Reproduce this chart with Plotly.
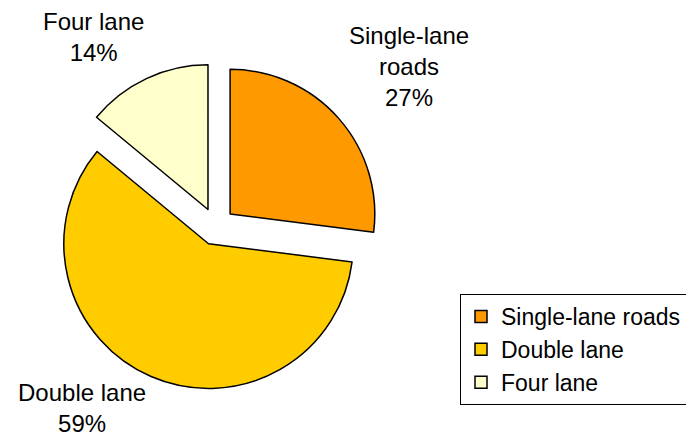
import plotly.graph_objects as go

categories = ["Single-lane roads", "Double lane", "Four lane"]
label_text = ["Single-lane<br>roads", "Double lane", "Four lane"]
values = [27, 59, 14]
colors = ["#FF9900", "#FFCC00", "#FFFFCC"]

W, H = 694, 438
FONT = "Liberation Sans, Arial, sans-serif"

fig = go.Figure(go.Pie(
    labels=categories,
    values=values,
    sort=False,
    direction="clockwise",
    rotation=0,
    pull=[0.13, 0.13, 0.13],
    marker=dict(colors=colors, line=dict(color="black", width=1.5)),
    textinfo="none",
    hoverinfo="label+percent",
    domain=dict(x=[44.5 / W, 371.5 / W], y=[56 / H, 383 / H]),
))

# label placements (paper coords) for each category
label_pos = [(401 / W, 1 - 58.5 / H), (74 / W, 1 - 400 / H), (85 / W, 1 - 28.5 / H)]
for txt, v, (lx, ly) in zip(label_text, values, label_pos):
    fig.add_annotation(
        x=lx, y=ly, xref="paper", yref="paper",
        text=f"{txt}<br>{v}%", showarrow=False,
        font=dict(family=FONT, size=24, color="black"),
        align="center", xanchor="center", yanchor="middle",
        borderpad=0,
    )

fig.update_layout(
    width=W, height=H,
    margin=dict(l=0, r=0, t=0, b=0),
    paper_bgcolor="white",
    plot_bgcolor="white",
    showlegend=True,
    legend=dict(
        x=452 / W, y=1 - 286 / H, xanchor="left", yanchor="top",
        bordercolor="black", borderwidth=1,
        font=dict(family=FONT, size=23, color="black"),
        bgcolor="white",
    ),
)

fig.write_html("out.html")
